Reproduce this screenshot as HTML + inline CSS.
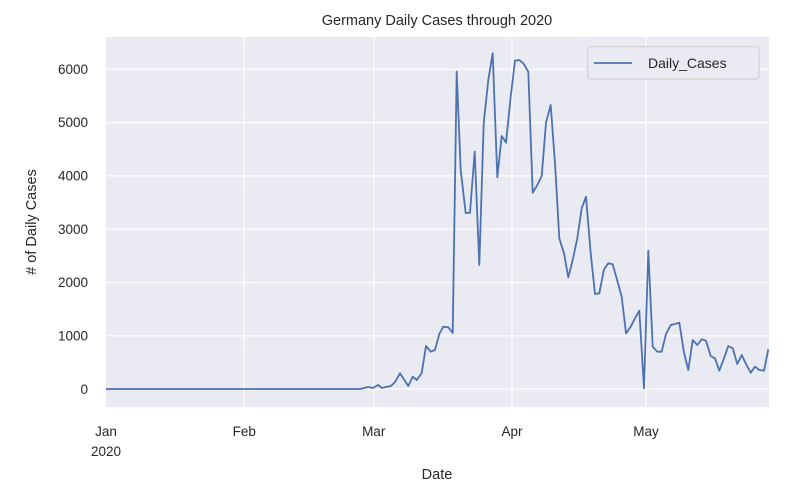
<!DOCTYPE html>
<html><head><meta charset="utf-8"><style>
body{margin:0;background:#fff;}
svg{display:block;font-family:"Liberation Sans",Arial,sans-serif;}
</style></head><body>
<svg width="804" height="498" viewBox="0 0 804 498">
<rect x="106" y="37" width="663" height="370" fill="#eaeaf2"/>
<g stroke="#fff" stroke-width="1.2">
<line x1="106" x2="769" y1="69.3" y2="69.3"/>
<line x1="106" x2="769" y1="122.6" y2="122.6"/>
<line x1="106" x2="769" y1="175.9" y2="175.9"/>
<line x1="106" x2="769" y1="229.2" y2="229.2"/>
<line x1="106" x2="769" y1="282.5" y2="282.5"/>
<line x1="106" x2="769" y1="335.8" y2="335.8"/>
<line x1="106" x2="769" y1="389" y2="389"/>
<line x1="244.3" x2="244.3" y1="37" y2="407"/>
<line x1="373.7" x2="373.7" y1="37" y2="407"/>
<line x1="512" x2="512" y1="37" y2="407"/>
<line x1="646" x2="646" y1="37" y2="407"/>
</g>
<polyline fill="none" stroke="#4c72b0" stroke-width="1.8" stroke-linejoin="round" points="106,389 360,389 364,388 368,387 373,388 378,385 382,388 386,387 391,386 395,382 400,373.3 408.3,386 412.7,376.7 416.7,380 421.7,373 426,346 430.7,351.7 435,350 439.3,334 443.3,326.7 448.3,327.3 452.7,333 456.7,71.7 460.7,170 465.7,213 470,212.7 474.7,151.7 479.3,265 483.7,123.3 488.3,80 492.7,53.3 497.3,177.3 501.7,136 506,142.7 510.7,96.7 515,60.7 519.3,60 523.3,63.3 528.3,71.7 532.7,192.7 537.3,185 541.7,176 546,122.7 550.7,105 555,163.3 559.3,238.3 564,253.3 568.3,277.3 572.7,260 577.3,238.3 581.7,208.3 586,196.7 590.7,253.3 595,294 599.3,293.3 604,269.3 608.3,263.3 612.7,264.3 617.3,280.7 621.7,296.7 626,333.3 630.7,326.7 635,318.3 639.3,310.7 644,388.3 648.3,250.7 652.7,346.7 657.3,351.7 661.7,351.7 666,334 670.7,325 675,324 679.3,322.7 684,352.7 688.3,370 692.7,340 697.3,345 701.7,339.3 706,340.7 710.7,356 715,358.3 719.3,370.7 724,358.3 728.3,346 732.7,348.3 737.3,364 741.7,355 746,364 750.7,372.7 755,366.7 759.3,370 764,370.7 768.3,349.3"/>
<rect x="587.7" y="46.7" width="171.3" height="32.3" rx="3" fill="#eaeaf2" fill-opacity="0.8" stroke="#ccc" stroke-width="1"/>
<line x1="594" x2="632" y1="63" y2="63" stroke="#4c72b0" stroke-width="1.8"/>
<text x="648" y="68" font-size="14" fill="#262626">Daily_Cases</text>
<text x="437" y="25" font-size="14.5" fill="#262626" text-anchor="middle">Germany Daily Cases through 2020</text>
<g font-size="13.5" fill="#262626" text-anchor="end">
<text x="88" y="74">6000</text>
<text x="88" y="127">5000</text>
<text x="88" y="180.5">4000</text>
<text x="88" y="234">3000</text>
<text x="88" y="287">2000</text>
<text x="88" y="340.5">1000</text>
<text x="88" y="394">0</text>
</g>
<g font-size="13.5" fill="#262626" text-anchor="middle">
<text x="106" y="436">Jan</text>
<text x="106" y="456">2020</text>
<text x="244.3" y="436">Feb</text>
<text x="373.7" y="436">Mar</text>
<text x="512" y="436">Apr</text>
<text x="646" y="436">May</text>
<text x="437" y="479" font-size="14.5">Date</text>
<text transform="translate(36,222) rotate(-90)" font-size="14.5">#  of Daily Cases</text>
</g>
</svg>
</body></html>
